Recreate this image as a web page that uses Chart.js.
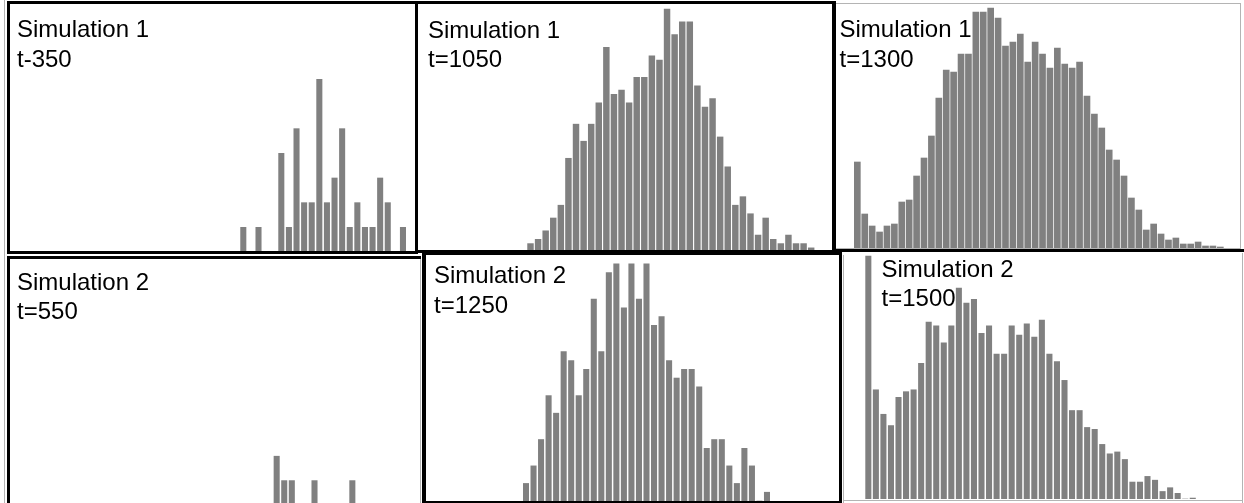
<!DOCTYPE html>
<html><head><meta charset="utf-8">
<script src="https://cdn.jsdelivr.net/npm/chart.js@4.4.0/dist/chart.umd.min.js"></script>
<style>
html,body{margin:0;padding:0;background:#fff;width:1244px;height:503px;overflow:hidden;}
body{position:relative;}
canvas{position:absolute;}
.ln{position:absolute;background:#000;}
.gl{position:absolute;background:#b4b4b4;}
.lab{position:absolute;font-family:"Liberation Sans",Arial,sans-serif;font-size:24px;line-height:29.5px;color:#000;white-space:nowrap;z-index:5;}
</style></head><body>
<script>
// ---- data (histogram counts per bin) ----
const panelTitles = ["Simulation 1","Simulation 1","Simulation 1","Simulation 2","Simulation 2","Simulation 2"];
const timeLabels  = ["t-350","t=1050","t=1300","t=550","t=1250","t=1500"];

const sim1_t350  = [1,0,1,0,0,4,1,5,2,2,7,2,3,5,1,2,1,1,3,2,0,1];
const sim1_t1050 = [3,5,9,15,21,43,59,51,59,69,95,73,75,69,81,81,91,89,113,101,107,107,77,67,71,53,39,21,25,17,7,15,5,3,7,3,3,1];
const sim1_t1300 = [43,17,11,8,11,12,23,24,36,45,56,75,89,88,97,97,118,118,120,115,101,103,107,93,103,97,90,100,92,90,93,76,67,60,49,44,36,25,19,9,12,7,4,5,2,2,3,1,1,0.5];
const sim2_t550  = [2,1,1,0,0,1,0,0,0,0,1];
const sim2_t1250 = [2,4,7,12,10,17,16,12,15,23,17,26,27,22,27,23,27,20,21,16,14,15,15,13,6,7,7,4,2,6,4,0,1];
const sim2_t1500 = [129,58,45,39,54,57,58,72,94,92,83,92,112,104,106,88,92,77,77,92,87,93,86,95,77,73,63,47,47,38,37,29,24,25,21,9,9,12,10,4,6,3,0,0.5];

const seriesList = [sim1_t350, sim1_t1050, sim1_t1300, sim2_t550, sim2_t1250, sim2_t1500];

// ---- layout (plot area boxes, bin geometry) ----
const layout = [
  {box:[10,3,405,249],  first:233.3, pitch:7.603, unit:24.67, bar:5.4, text:[17,14.2]},
  {box:[418,4,414,246], first:112.5, pitch:7.586, unit:2.133, bar:5.8, text:[428,14.6]},
  {box:[836,4,404,244], first:21.33, pitch:7.408, unit:2.0,   bar:6.0, text:[839.5,14.2]},
  {box:[10,259,410,246],first:266.67,pitch:7.567, unit:24.4,  bar:5.4, text:[17,266.9]},
  {box:[425,255,414,246],first:101,  pitch:7.531, unit:8.783, bar:5.4, text:[434,260.2]},
  {box:[844,253,398,246],first:24.33,pitch:7.545, unit:1.883, bar:5.4, text:[881.5,253.6]}
];

const blackLines = [
  [7,1,411,3],[7,1,3,253],[415,1,3,253],[7,251,411,3],
  [415,1,420,3],[832,1,3,252],[415,250,420,3],
  [833,1,3,252],[833,249,411,3],
  [7,256,3,247],[7,256,414,2.5],
  [422,252,3.5,251],[422,252,420,3],[839,252,3,251],[422,501,420,2]
];
const greyLines = [
  [4,0,1,503],[836,3,404,1],[1240,3,1,246],[836,247.5,404,1],
  [420,258,1,245],[843,255,1,248],[1242,253,1,250],[844,499.5,398,1]
];

function addRect(r, cls){
  const d=document.createElement('div'); d.className=cls;
  d.style.left=r[0]+'px'; d.style.top=r[1]+'px'; d.style.width=r[2]+'px'; d.style.height=r[3]+'px';
  document.body.appendChild(d);
}

seriesList.forEach((vals, k) => {
  const L = layout[k];
  const [x,y,w,h] = L.box;
  const cv = document.createElement('canvas');
  cv.width = w; cv.height = h;
  cv.style.left = x+'px'; cv.style.top = y+'px';
  cv.style.width = w+'px'; cv.style.height = h+'px';
  document.body.appendChild(cv);
  const xmin = -L.first / L.pitch;
  const xmax = xmin + w / L.pitch;
  new Chart(cv, {
    type: 'bar',
    data: {
      datasets: [{
        data: vals.map((v,i)=>({x:i, y:v})),
        backgroundColor: '#808080',
        borderWidth: 0,
        barThickness: L.bar
      }]
    },
    options: {
      responsive: false,
      animation: false,
      devicePixelRatio: 1,
      layout: {padding: 0},
      plugins: {legend:{display:false}, tooltip:{enabled:false}, title:{display:false}},
      scales: {
        x: {type:'linear', display:false, offset:false, min:xmin, max:xmax, bounds:'data'},
        y: {type:'linear', display:false, min:0, max:h / L.unit}
      }
    }
  });
  const t = document.createElement('div');
  t.className='lab';
  t.style.left = L.text[0]+'px'; t.style.top = L.text[1]+'px';
  t.innerHTML = panelTitles[k] + '<br>' + timeLabels[k];
  document.body.appendChild(t);
});

greyLines.forEach(r=>addRect(r,'gl'));
blackLines.forEach(r=>addRect(r,'ln'));
</script>
</body></html>
